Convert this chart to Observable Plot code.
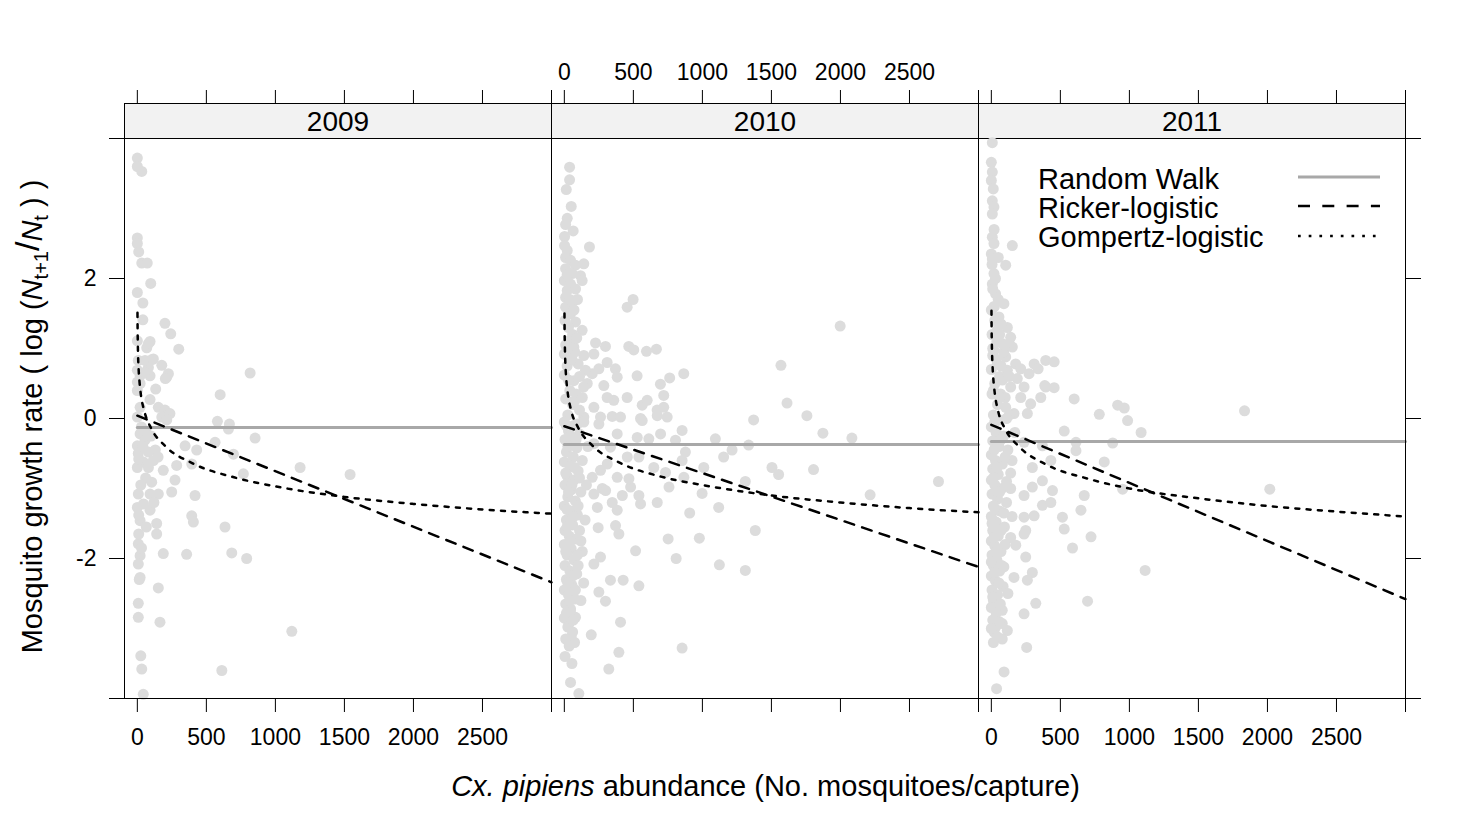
<!DOCTYPE html>
<html><head><meta charset="utf-8">
<script src="https://cdn.jsdelivr.net/npm/d3@7"></script>
<script src="https://cdn.jsdelivr.net/npm/@observablehq/plot@0.6"></script>
<style>
body{margin:0;background:#fff;}
#fig{position:relative;width:1476px;height:830px;overflow:hidden;font-family:"Liberation Sans",Arial,sans-serif;}
#fig svg{position:absolute;top:0;}
</style></head><body><div id="fig"></div>
<script>
// ---- data ----
const years = ["2009", "2010", "2011"];
const xTicks = [0, 500, 1000, 1500, 2000, 2500, 3000];
const yTicks = [-4, -2, 0, 2, 4];

const obs2009 = [[0,3.72],[0,3.60],[32,3.53],[0,2.58],[0,2.50],[10,2.38],[32,2.22],[72,2.22],[97,1.93],[0,1.80],[40,1.65],[40,1.41],[200,1.36],[242,1.21],[300,0.99],[0,1.11],[92,1.10],[68,1.01],[80,1.07],[104,0.84],[7,0.83],[80,0.73],[0,0.69],[20,0.61],[92,0.61],[56,0.83],[116,0.85],[56,0.66],[177,0.76],[213,0.59],[225,0.64],[203,0.57],[817,0.65],[0,0.52],[20,0.50],[0,0.40],[133,0.42],[600,0.34],[92,0.27],[152,0.16],[200,0.12],[236,0.07],[20,0.16],[0,0.02],[177,0.02],[213,-0.02],[580,-0.04],[667,-0.08],[660,-0.15],[853,-0.28],[20,-0.22],[56,-0.31],[0,-0.39],[80,-0.48],[116,-0.60],[7,-0.50],[43,-0.62],[0,-0.70],[80,-0.70],[346,-0.39],[430,-0.45],[563,-0.34],[696,-0.51],[394,-0.65],[188,-0.74],[273,-0.88],[285,-0.67],[104,-0.91],[768,-0.79],[1179,-0.70],[1541,-0.80],[7,-1.08],[92,-1.08],[152,-1.08],[249,-1.05],[418,-1.10],[0,-1.27],[92,-1.31],[20,-1.46],[140,-1.50],[394,-1.39],[406,-1.48],[635,-1.55],[140,-1.65],[7,-1.79],[20,-1.96],[7,-2.08],[188,-1.93],[357,-1.94],[684,-1.92],[792,-2.00],[20,-2.27],[14,-2.30],[152,-2.42],[7,-2.64],[7,-2.84],[164,-2.91],[1119,-3.04],[25,-3.39],[32,-3.58],[612,-3.60],[43,-3.94],[30,-0.12],[60,-0.18],[100,-0.25],[40,-0.40],[130,-0.45],[10,-0.58],[150,-0.55],[60,-0.85],[25,-0.95],[120,-1.20],[45,-1.22],[10,-1.38],[65,-1.55],[10,-1.65],[30,-1.85]];

const obs2010 = [[38,3.59],[38,3.41],[14,3.27],[50,3.03],[21,2.86],[9,2.77],[64,2.68],[2,2.60],[2,2.47],[21,2.40],[182,2.45],[9,2.30],[45,2.26],[81,2.19],[141,2.21],[9,2.14],[57,2.07],[117,2.04],[0,1.97],[45,1.92],[129,1.97],[21,1.83],[81,1.85],[9,1.73],[57,1.66],[9,1.59],[45,1.50],[498,1.70],[455,1.59],[1998,1.32],[81,1.38],[129,1.26],[226,1.08],[298,1.03],[467,1.03],[503,0.98],[595,0.96],[667,0.99],[33,1.11],[69,1.02],[141,0.90],[214,0.92],[0,0.92],[45,0.83],[310,0.80],[370,0.71],[383,0.59],[250,0.71],[202,0.64],[153,0.69],[1569,0.76],[527,0.61],[763,0.58],[865,0.64],[696,0.49],[720,0.33],[286,0.47],[166,0.50],[69,0.54],[1613,0.22],[455,0.30],[564,0.19],[600,0.26],[672,0.12],[720,0.16],[745,0.02],[358,0.26],[310,0.30],[1757,0.04],[1371,-0.02],[262,0.02],[347,0.03],[407,0.02],[552,0.0],[141,0.02],[214,0.16],[1873,-0.21],[2083,-0.28],[1094,-0.29],[1215,-0.45],[1154,-0.55],[1335,-0.38],[1504,-0.70],[1552,-0.80],[1805,-0.73],[2710,-0.90],[2215,-1.09],[1311,-0.90],[998,-1.07],[1118,-1.27],[908,-1.35],[1383,-1.60],[978,-1.71],[752,-1.72],[810,-2.00],[1123,-2.09],[1311,-2.17],[853,-0.17],[877,-0.48],[1010,-0.70],[866,-0.84],[758,-0.98],[697,-0.22],[805,-0.31],[612,-0.29],[528,-0.27],[383,-0.22],[564,-0.03],[673,0.04],[853,-0.60],[648,-0.70],[733,-0.77],[480,-0.98],[540,-1.10],[552,-1.22],[420,-1.10],[347,-1.20],[383,-1.31],[673,-1.20],[239,-1.27],[275,-1.00],[214,-1.08],[299,-1.03],[383,-0.84],[468,-0.86],[262,-0.74],[202,-0.84],[311,-0.65],[456,-0.55],[540,-0.55],[334,-0.41],[214,-0.36],[250,-0.08],[141,-0.05],[245,-1.56],[371,-1.53],[395,-1.65],[516,-1.89],[262,-1.98],[214,-2.08],[334,-2.31],[426,-2.31],[540,-2.39],[250,-2.48],[298,-2.61],[407,-2.91],[195,-3.09],[395,-3.34],[322,-3.58],[853,-3.28],[45,-3.77],[105,-3.93],[45,-2.77],[81,-2.84],[33,-2.93],[50,-3.12],[74,-3.20],[5,1.40],[30,1.30],[60,1.20],[10,1.05],[90,1.15],[20,0.75],[100,0.78],[0,0.62],[40,0.40],[85,0.35],[10,0.28],[60,0.20],[110,0.12],[25,0.05],[0,-0.05],[70,-0.10],[30,-0.18],[110,-0.22],[5,-0.30],[50,-0.35],[90,-0.42],[15,-0.48],[65,-0.55],[0,-0.62],[40,-0.68],[100,-0.75],[20,-0.82],[70,-0.88],[5,-0.95],[50,-1.02],[120,-1.05],[25,-1.12],[80,-1.18],[0,-1.25],[45,-1.32],[95,-1.38],[15,-1.45],[60,-1.52],[5,-1.60],[35,-1.68],[85,-1.72],[0,-1.80],[50,-1.86],[20,-1.95],[70,-2.02],[5,-2.10],[40,-2.18],[90,-2.22],[15,-2.30],[55,-2.38],[0,-2.45],[30,-2.52],[75,-2.58],[10,-2.65],[45,-2.72],[0,-2.85],[25,-2.98],[60,-3.05],[10,-3.15],[35,-2.40],[130,-1.90],[150,-1.45],[160,-0.95],[170,-0.40],[140,0.45],[75,0.95],[120,-2.60],[100,-2.10],[20,1.00],[55,0.85],[110,0.60],[30,0.55],[75,0.25],[130,0.30],[15,-0.10],[95,-0.08],[45,-0.25],[130,-0.60],[25,-0.40],[75,-0.70],[10,-0.78],[55,-0.95],[110,-0.85],[30,-1.05],[100,-1.25],[65,-1.40],[20,-1.55],[110,-1.60],[45,-1.75],[10,-1.90],[95,-1.95],[60,-2.25],[25,-2.35],[80,-2.45],[40,-2.60],[15,-2.78],[65,-2.88],[35,-3.25],[5,-3.40],[55,-3.50],[20,-1.30],[85,-0.30],[120,-1.75],[140,-2.35],[40,1.70],[70,1.55],[20,2.05],[95,1.70]];

const obs2011 = [[7,3.94],[0,3.66],[7,3.52],[0,3.40],[14,3.28],[7,3.11],[19,3.02],[7,2.92],[7,2.59],[19,2.50],[152,2.47],[0,2.35],[104,2.19],[7,2.28],[19,2.07],[7,1.92],[31,1.78],[91,1.64],[19,1.59],[55,1.45],[116,1.30],[43,1.26],[140,1.16],[79,1.07],[152,1.02],[19,0.97],[104,0.88],[176,0.78],[43,0.78],[116,0.69],[213,0.71],[310,0.78],[394,0.83],[455,0.81],[273,0.64],[188,0.57],[140,0.45],[237,0.45],[67,0.35],[213,0.30],[285,0.21],[358,0.30],[394,0.45],[455,0.44],[600,0.28],[782,0.06],[915,0.19],[963,0.15],[1834,0.11],[164,0.07],[261,0.07],[104,0.16],[987,-0.03],[1085,-0.20],[879,-0.35],[818,-0.62],[528,-0.18],[613,-0.34],[613,-0.46],[443,-1.03],[673,-1.10],[649,-1.31],[515,-1.41],[528,-1.58],[722,-1.69],[588,-1.85],[1114,-2.17],[2017,-1.01],[697,-2.61],[322,-2.64],[237,-2.79],[256,-3.27],[92,-3.62],[38,-3.86],[237,-0.34],[370,-0.39],[431,-0.60],[297,-0.70],[370,-0.89],[297,-0.98],[370,-1.24],[431,-1.20],[237,-1.10],[310,-1.39],[237,-1.41],[177,-1.81],[249,-1.98],[297,-2.20],[261,-2.31],[164,-2.27],[91,-2.12],[237,-1.65],[249,-1.60],[79,-2.74],[79,-2.93],[116,-3.03],[79,-3.15],[31,-2.98],[339,0.71],[387,0.47],[951,-1.01],[5,2.20],[30,2.00],[10,1.85],[50,1.70],[0,1.55],[25,1.40],[70,1.35],[5,1.20],[40,1.10],[90,0.95],[10,0.90],[60,0.60],[0,0.70],[25,0.50],[80,0.55],[5,0.35],[45,0.20],[100,0.30],[15,0.05],[60,-0.02],[0,-0.12],[35,-0.20],[90,-0.25],[10,-0.32],[55,-0.40],[120,-0.45],[0,-0.52],[30,-0.60],[80,-0.65],[10,-0.72],[50,-0.80],[140,-0.78],[0,-0.88],[25,-0.95],[75,-1.00],[5,-1.08],[45,-1.15],[110,-1.20],[15,-1.25],[60,-1.32],[0,-1.40],[35,-1.48],[95,-1.55],[10,-1.60],[50,-1.68],[0,-1.75],[25,-1.82],[70,-1.90],[5,-1.95],[40,-2.02],[15,-2.10],[60,-2.18],[0,-2.25],[30,-2.32],[85,-2.40],[5,-2.45],[45,-2.52],[15,-2.60],[0,-2.70],[35,-2.78],[10,-2.88],[55,-2.90],[20,-3.05],[140,-1.00],[150,-0.60],[130,0.05],[170,-0.20],[120,-2.50],[150,-1.40],[20,1.60],[60,1.20],[100,1.05],[35,0.85],[70,0.75],[15,0.40],[60,0.30],[110,0.00],[25,-0.05],[70,-0.30],[20,-0.45],[100,-0.55],[40,-0.70],[110,-0.90],[15,-0.85],[60,-1.05],[30,-1.30],[90,-1.35],[5,-1.50],[70,-1.60],[20,-1.70],[100,-1.80],[45,-1.88],[0,-2.05],[75,-2.10],[25,-2.20],[55,-2.35],[10,-2.55],[65,-2.65],[30,-2.90],[0,-3.00],[45,-3.12],[15,-3.20],[50,2.30],[20,2.70],[10,1.00],[130,0.60],[140,-1.70]];

// fitted model curves
const rwN = [0, 3000];
const randomWalk = [-0.13, -0.37, -0.33];           // constant level per year
const rickerN = [0, 3000];
const ricker2009 = [0.04, -2.34];
const ricker2010 = [-0.11, -2.12];
const ricker2011 = [-0.09, -2.58];
const gompN = [1, 2, 3, 5, 10, 15, 25, 50, 100, 200, 400, 700, 1000, 1500, 2000, 2500, 3000];
const gomp2009 = [1.51, 1.26, 1.12, 0.93, 0.68, 0.54, 0.35, 0.11, -0.14, -0.39, -0.64, -0.84, -0.97, -1.12, -1.22, -1.30, -1.36];
const gomp2010 = [1.50, 1.25, 1.11, 0.93, 0.68, 0.54, 0.36, 0.11, -0.13, -0.38, -0.63, -0.83, -0.95, -1.10, -1.20, -1.28, -1.34];
const gomp2011 = [1.54, 1.29, 1.14, 0.95, 0.70, 0.55, 0.36, 0.10, -0.15, -0.40, -0.66, -0.86, -1.00, -1.14, -1.25, -1.33, -1.40];

const legendLabels = ["Random Walk", "Ricker-logistic", "Gompertz-logistic"];

// ---- layout ----
const FONT = '"Liberation Sans", Arial, sans-serif';
const obs = [obs2009, obs2010, obs2011];
const rick = [ricker2009, ricker2010, ricker2011];
const gomp = [gomp2009, gomp2010, gomp2011];
const panelLeft = [124, 551, 978];
const PW = 427;
const fig = document.getElementById("fig");

// background decorations: strips, titles, legend
const NS = "http://www.w3.org/2000/svg";
let bg = `<svg xmlns="${NS}" width="1476" height="830" style="left:0" font-family='${FONT}'>`;
years.forEach((yr, i) => {
  const x = panelLeft[i] + 0.5;
  bg += `<rect x="${x}" y="103.5" width="${PW}" height="35" fill="#f2f2f2" stroke="black" stroke-width="1"/>`;
  bg += `<text x="${x + PW / 2}" y="131" font-size="28" text-anchor="middle" fill="black">${yr}</text>`;
});
bg += `<text transform="translate(42,416.5) rotate(-90)" font-size="29" text-anchor="middle" fill="black">Mosquito growth rate ( log (<tspan font-style="italic">N</tspan><tspan font-size="20" dy="6">t+1</tspan><tspan dy="-9" font-size="34">/</tspan><tspan font-style="italic" dy="3">N</tspan><tspan font-size="20" dy="6">t</tspan><tspan dy="-6"> ) )</tspan></text>`;
bg += `<text x="765.5" y="796" font-size="29" text-anchor="middle" fill="black"><tspan font-style="italic">Cx. pipiens</tspan> abundance (No. mosquitoes/capture)</text>`;
const legY = [189, 218, 247];
legendLabels.forEach((lab, i) => {
  bg += `<text x="1038" y="${legY[i]}" font-size="29" fill="black">${lab}</text>`;
});
bg += `<line x1="1298" x2="1380" y1="177" y2="177" stroke="#a8a8a8" stroke-width="3"/>`;
bg += `<line x1="1298" x2="1380" y1="206" y2="206" stroke="black" stroke-width="2.5" stroke-dasharray="12,12.3"/>`;
bg += `<line x1="1298" x2="1380" y1="236" y2="236" stroke="black" stroke-width="2.5" stroke-dasharray="2.7,8"/>`;
bg += `</svg>`;
fig.insertAdjacentHTML("beforeend", bg);

function panel(i) {
  const pts = obs[i].map(([n, g]) => ({n, g}));
  const rw = rwN.map(n => ({n, g: randomWalk[i]}));
  const rk = rickerN.map((n, j) => ({n, g: rick[i][j]}));
  const gp = gompN.map((n, j) => ({n, g: gomp[i][j]}));
  const first = i === 0, last = i === 2, mid = i === 1;
  const mL = first ? 124 : 0;
  const mR = last ? 71 : 0;
  const left = first ? 0 : panelLeft[i];
  const width = PW + mL + mR;
  const lab = d => (d === 3000 ? "" : String(d));
  const none = () => "";
  const marks = [
    Plot.dot(pts, {x: "n", y: "g", r: 5.5, fill: "#dcdcdc"}),
    Plot.line(rw, {x: "n", y: "g", stroke: "#a8a8a8", strokeWidth: 3}),
    Plot.line(rk, {x: "n", y: "g", stroke: "black", strokeWidth: 2.5, strokeDasharray: "10,8.5"}),
    Plot.line(gp, {x: "n", y: "g", stroke: "black", strokeWidth: 2.5, strokeDasharray: "4,7.3", curve: "monotone-x"}),
    Plot.frame({stroke: "black", strokeWidth: 1}),
    Plot.axisX({anchor: "bottom", ticks: xTicks, tickSize: 14, tickPadding: 16, fontSize: 23, label: null,
      tickFormat: mid ? none : lab, stroke: "black", color: "black"}),
    Plot.axisX({anchor: "top", ticks: xTicks, tickSize: 14, tickPadding: 10, fontSize: 23, label: null,
      tickFormat: mid ? lab : none, stroke: "black", color: "black"})
  ];
  if (first) marks.push(Plot.axisY({anchor: "left", ticks: yTicks, tickSize: 15, tickPadding: 13, fontSize: 23, label: null,
    tickFormat: d => (Math.abs(d) === 4 ? "" : String(d)), color: "black"}));
  if (last) marks.push(Plot.axisY({anchor: "right", ticks: yTicks, tickSize: 15, tickFormat: none, label: null, color: "black"}));
  const svg = Plot.plot({
    width, height: 830,
    marginLeft: mL, marginRight: mR, marginTop: 103, marginBottom: 132,
    x: {domain: [-93, 3000], axis: null, label: null},
    y: {domain: [-4, 4.5], axis: null, label: null},
    style: {background: "transparent", fontFamily: FONT, fontSize: "23px", color: "black", overflow: "visible"},
    marks
  });
  svg.style.position = "absolute";
  svg.style.left = left + "px";
  svg.style.top = "0px";
  svg.style.maxWidth = "none";
  fig.appendChild(svg);
}
[0, 1, 2].forEach(panel);
</script></body></html>
